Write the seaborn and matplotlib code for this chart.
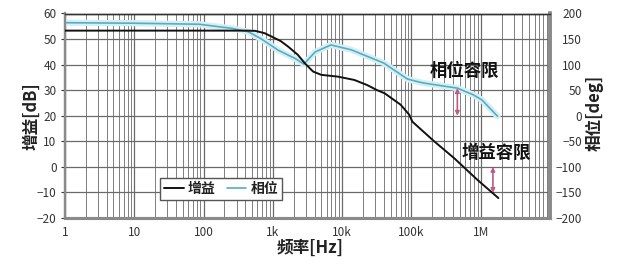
import numpy as np
import pandas as pd
import matplotlib
matplotlib.use("Agg")
import matplotlib.pyplot as plt
import seaborn as sns
from matplotlib.lines import Line2D
from matplotlib.ticker import FixedLocator, FixedFormatter, LogLocator, NullFormatter

# ---- data ----
gain_freq = [1, 100, 400, 560, 760, 955, 1300, 1670, 2300, 2900, 3800, 5000, 8700, 15000,
             23000, 32000, 41000, 70000, 93000, 103000, 213000, 410000, 890000, 1800000]
gain_db = [53.3, 53.3, 53.3, 53.2, 52.3, 51.0, 49.2, 47.0, 43.8, 40.5, 37.3, 36.0, 35.3, 34.0,
           32.0, 30.0, 28.8, 24.3, 20.4, 17.7, 10.0, 3.5, -5.0, -12.2]

phase_freq = [1, 10, 86, 255, 446, 686, 1200, 2100, 2800, 4100, 6900, 13500,
              40000, 87000, 120000, 150000, 460000, 780000, 1040000, 1750000]
phase_deg = [182, 181, 179, 171, 164, 150, 128, 112, 101, 125, 138.5, 129,
             103, 72, 67, 64, 54, 41, 31, -1]

x_ticks = [1, 10, 100, 1e3, 1e4, 1e5, 1e6]
x_ticklabels = ["1", "10", "100", "1k", "10k", "100k", "1M"]
gain_ticks = [60, 50, 40, 30, 20, 10, 0, -10, -20]
phase_ticks = [200, 150, 100, 50, 0, -50, -100, -150, -200]

label_gain = "增益"
label_phase = "相位"
pm_text = "相位容限"
gm_text = "增益容限"

gain_df = pd.DataFrame({"freq": gain_freq, "dB": gain_db})
phase_df = pd.DataFrame({"freq": phase_freq, "deg": phase_deg})

sns.set_theme(style="white")
plt.rcParams["font.family"] = ["Noto Sans CJK SC", "DejaVu Sans"]

fig = plt.figure(figsize=(6.2, 2.65), dpi=100)
rect = [65 / 620, 1 - 218 / 265, (550 - 65) / 620, (218 - 13.5) / 265]
ax = fig.add_axes(rect)                 # bottom: grid + left/bottom ticks
ax2 = ax.twinx()                        # middle: phase + right ticks
ax3 = fig.add_axes(rect, sharex=ax, sharey=ax)   # top: gain curve
ax.set_zorder(0)
ax2.set_zorder(1)
ax3.set_zorder(2)
ax2.patch.set_visible(False)
ax3.patch.set_visible(False)

gain_c = "#111111"
phase_c = "#55aebf"
halo_c = "#d6eff5"

sns.lineplot(data=phase_df, x="freq", y="deg", ax=ax2, color=halo_c, lw=4.5,
             legend=False)
sns.lineplot(data=phase_df, x="freq", y="deg", ax=ax2, color=phase_c, lw=1.2,
             legend=False)
sns.lineplot(data=gain_df, x="freq", y="dB", ax=ax3, color=gain_c, lw=1.4,
             legend=False)
ax3.axis("off")

ax.set_xscale("log")
ax.set_xlim(1, 1e7)
ax.set_ylim(-20, 60)
ax2.set_ylim(-200, 200)

ax.xaxis.set_major_locator(FixedLocator(x_ticks))
ax.xaxis.set_major_formatter(FixedFormatter(x_ticklabels))
ax.xaxis.set_minor_locator(LogLocator(base=10, subs=np.arange(2, 10), numticks=20))
ax.xaxis.set_minor_formatter(NullFormatter())
ax.set_yticks(gain_ticks)
ax2.set_yticks(phase_ticks)

grid_c = "#6a6a6a"
ax.grid(True, which="major", axis="both", color=grid_c, lw=0.9)
ax.grid(True, which="minor", axis="x", color=grid_c, lw=0.6)
ax2.grid(False)

tick_c = "#333333"
ax.tick_params(axis="both", which="major", labelsize=8.5, colors=tick_c,
               length=3, width=0.8, direction="out")
ax.tick_params(axis="x", which="minor", length=0)
ax.tick_params(axis="x", pad=3)
ax.tick_params(axis="y", pad=3, left=True)
ax2.tick_params(axis="y", labelsize=8.5, colors=tick_c, length=0, pad=23, right=True)
for lbl in ax2.get_yticklabels():
    lbl.set_horizontalalignment("right")

for a in (ax, ax2):
    for s in a.spines.values():
        s.set_visible(True)
    a.spines["top"].set_color("#333333")
    a.spines["top"].set_linewidth(1.0)
    a.spines["left"].set_color("#8a8a8a")
    a.spines["left"].set_linewidth(1.6)
    a.spines["bottom"].set_color("#8a8a8a")
    a.spines["bottom"].set_linewidth(2.2)
    a.spines["right"].set_color("#8a8a8a")
    a.spines["right"].set_linewidth(2.6)

ax.set_xlabel("频率[Hz]", fontsize=12, fontweight="bold", color="#222222",
              ha="center", va="center")
ax.xaxis.set_label_coords(0.505, -0.147)
ax.set_ylabel("增益[dB]", fontsize=12, fontweight="bold", color="#222222",
              ha="center", va="center")
ax.yaxis.set_label_coords(-0.07, 0.5)
ax2.set_ylabel("相位[deg]", fontsize=12, fontweight="bold", color="#222222",
               rotation=90, ha="center", va="center")
ax2.yaxis.set_label_coords(1.093, 0.513)

# annotations
arrow_c = "#bf5a84"
ax3.text(5.75e5, 37.5, pm_text, ha="center", va="center", fontsize=12.5,
         fontweight="bold", color="#111111")
ax3.text(1.7e6, 5.5, gm_text, ha="center", va="center", fontsize=12.5,
         fontweight="bold", color="#111111")
ax2.annotate("", xy=(4.6e5, 0), xytext=(4.6e5, 54),
             arrowprops=dict(arrowstyle="<|-|>", color=arrow_c, lw=1.2,
                             mutation_scale=6, shrinkA=0, shrinkB=0))
ax3.annotate("", xy=(1.5e6, -10.2), xytext=(1.5e6, 0),
             arrowprops=dict(arrowstyle="<|-|>", color=arrow_c, lw=1.2,
                             mutation_scale=6, shrinkA=0, shrinkB=0))

h1 = Line2D([], [], color=gain_c, lw=1.4)
h2 = Line2D([], [], color=phase_c, lw=1.2)
leg = ax3.legend([h1, h2], [label_gain, label_phase], loc="center",
                 bbox_to_anchor=(0.322, 0.142), ncol=2, fontsize=10,
                 frameon=True, fancybox=False, edgecolor="#555555",
                 handlelength=1.4, handletextpad=0.3, columnspacing=0.8,
                 borderpad=0.3, framealpha=1)
leg.get_frame().set_linewidth(1.0)
for t in leg.get_texts():
    t.set_fontweight("bold")
    t.set_color("#222222")

fig.savefig("out.png", dpi=100)
